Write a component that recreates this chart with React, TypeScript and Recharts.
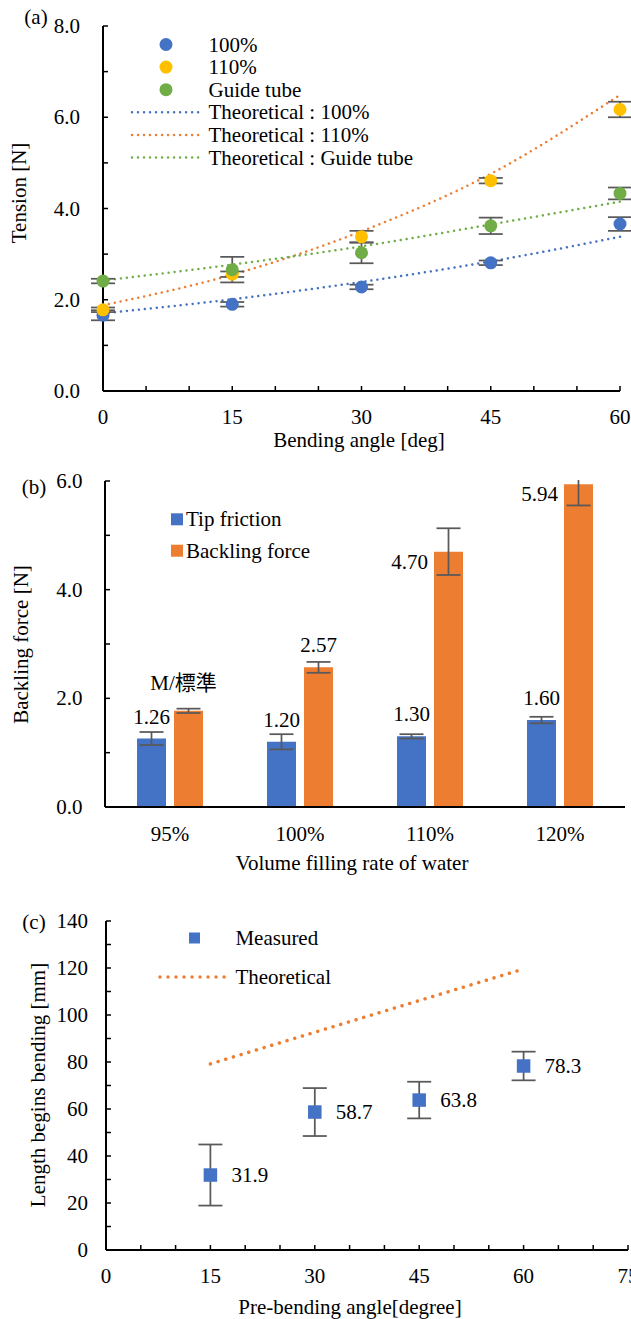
import React from 'react';
import { ComposedChart, BarChart, Bar, Line, Scatter, XAxis, YAxis, ErrorBar, LabelList, Legend } from 'recharts';

// ---------- Panel (a) data ----------
const anglesA = [0, 15, 30, 45, 60];
const tension100 = [1.66, 1.9, 2.28, 2.81, 3.66];
const tension100Err = [0.11, 0.05, 0.05, 0.05, 0.15];
const tension110 = [1.78, 2.56, 3.38, 4.61, 6.17];
const tension110Err = [0.05, 0.06, 0.13, 0.06, 0.17];
const tensionGuide = [2.41, 2.66, 3.03, 3.62, 4.33];
const tensionGuideErr = [0.05, 0.28, 0.23, 0.18, 0.13];
const theory100 = [1.7, 2.01, 2.39, 2.84, 3.38];
const theory110 = [1.88, 2.55, 3.5, 4.76, 6.49];
const theoryGuide = [2.42, 2.77, 3.17, 3.65, 4.15];
const xTicksA = [0, 5, 10, 15, 20, 25, 30, 35, 40, 45, 50, 55, 60];
const xLabelsA = [0, 15, 30, 45, 60];
const yTicksA = [0, 1, 2, 3, 4, 5, 6, 7, 8];
const yLabelsA = [0, 2, 4, 6, 8];
const legendA = ['100%', '110%', 'Guide tube', 'Theoretical : 100%', 'Theoretical : 110%', 'Theoretical : Guide tube'];

// ---------- Panel (b) data ----------
const fillRates = ['95%', '100%', '110%', '120%'];
const tipFriction = [1.26, 1.2, 1.3, 1.6];
const tipFrictionErr = [0.12, 0.14, 0.04, 0.06];
const backlingForce = [1.77, 2.57, 4.7, 5.94];
const backlingForceErr = [0.04, 0.1, 0.43, 0.39];
const backlingLabels = ['M/標準', '2.57', '4.70', '5.94'];
const yTicksB = [0, 1, 2, 3, 4, 5, 6];
const yLabelsB = [0, 2, 4, 6];
const legendB = ['Tip friction', 'Backling force'];

// ---------- Panel (c) data ----------
const preAngles = [15, 30, 45, 60];
const measuredLength = [31.9, 58.7, 63.8, 78.3];
const measuredErr = [13.0, 10.2, 7.8, 6.1];
const theoryAngles = [15, 60];
const theoryLength = [79.2, 119.6];
const xTicksC = [0, 5, 10, 15, 20, 25, 30, 35, 40, 45, 50, 55, 60, 65, 70, 75];
const xLabelsC = [0, 15, 30, 45, 60, 75];
const yTicksC = [0, 10, 20, 30, 40, 50, 60, 70, 80, 90, 100, 110, 120, 130, 140];
const yLabelsC = [0, 20, 40, 60, 80, 100, 120, 140];
const legendC = ['Measured', 'Theoretical'];

// ---------- styles ----------
const FONT = "'Liberation Serif', 'DejaVu Serif', serif";
const FS = 21;
const BLUE = '#4472C4';
const ORANGE = '#ED7D31';
const YELLOW = '#FFC000';
const GREEN = '#70AD47';
const ERR = '#595959';
const AXIS = { stroke: '#000', strokeWidth: 2 };

const txt = { fontFamily: FONT, fontSize: FS, fill: '#000' } as const;

const pts = (xs: number[], ys: number[], es?: number[]) =>
  xs.map((x, i) => ({ x, y: ys[i], err: es ? es[i] : 0 }));

const makeYTick = (labels: number[], dx: number, fmt: (v: number) => string) => (p: any) => {
  const { x, y, payload } = p;
  const v = payload.value;
  return (
    <g>
      <line x1={x} x2={x + 5} y1={y} y2={y} stroke="#000" strokeWidth={1.5} />
      {labels.includes(v) && (
        <text x={x + dx} y={y} textAnchor="end" dominantBaseline="central" {...txt}>
          {fmt(v)}
        </text>
      )}
    </g>
  );
};

const makeXTick = (labels: number[] | null, dy: number, showLine: boolean) => (p: any) => {
  const { x, y, payload } = p;
  const v = payload.value;
  return (
    <g>
      {showLine && <line x1={x} x2={x} y1={y} y2={y - 5} stroke="#000" strokeWidth={1.5} />}
      {(labels === null || labels.includes(v)) && (
        <text x={x} y={y + dy} textAnchor="middle" dominantBaseline="central" {...txt}>
          {String(v)}
        </text>
      )}
    </g>
  );
};

const circleShape = (color: string) => (p: any) => <circle cx={p.cx} cy={p.cy} r={6.5} fill={color} />;

const squareShape = (p: any) => (
  <g>
    <rect x={p.cx - 6.75} y={p.cy - 6.75} width={13.5} height={13.5} fill={BLUE} />
    <text x={p.cx + 21} y={p.cy} textAnchor="start" dominantBaseline="central" {...txt}>
      {Number(p.payload.y).toFixed(1)}
    </text>
  </g>
);

const titleY = (x: number, y: number, s: string) => () => (
  <text x={x} y={y} transform={`rotate(-90 ${x} ${y})`} textAnchor="middle" dominantBaseline="central" {...txt}>
    {s}
  </text>
);
const titleX = (x: number, y: number, s: string) => () => (
  <text x={x} y={y} textAnchor="middle" dominantBaseline="central" {...txt}>
    {s}
  </text>
);

// ---------- legends ----------
function LegendA() {
  const colorsDot = [BLUE, YELLOW, GREEN];
  const colorsLine = [BLUE, ORANGE, GREEN];
  return (
    <svg width={631} height={180} style={{ display: 'block' }}>
      <text x={36} y={16.7} textAnchor="middle" dominantBaseline="central" {...txt}>(a)</text>
      {legendA.map((s, i) => {
        const y = 44.5 + i * 22.6;
        return (
          <g key={s}>
            {i < 3 ? (
              <circle cx={166} cy={y} r={6.5} fill={colorsDot[i]} />
            ) : (
              <line x1={132} x2={201} y1={y} y2={y} stroke={colorsLine[i - 3]} strokeWidth={2.5} strokeDasharray="0.01 6" strokeLinecap="round" />
            )}
            <text x={208.5} y={y} dominantBaseline="central" {...txt}>{s}</text>
          </g>
        );
      })}
    </svg>
  );
}

function LegendB() {
  const colors = [BLUE, ORANGE];
  return (
    <svg width={631} height={110} style={{ display: 'block' }}>
      {/* plot-area clip above the top border (error bar overflow is cut at 6.0 like the reference) */}
      <rect x={106} y={0} width={518} height={20} fill="#fff" />
      <text x={34} y={27} textAnchor="middle" dominantBaseline="central" {...txt}>(b)</text>
      {legendB.map((s, i) => {
        const y = 59.3 + i * 31.4;
        return (
          <g key={s}>
            <rect x={171} y={y - 6} width={12} height={12} fill={colors[i]} />
            <text x={186} y={y} dominantBaseline="central" {...txt}>{s}</text>
          </g>
        );
      })}
    </svg>
  );
}

function LegendC() {
  return (
    <svg width={631} height={115} style={{ display: 'block' }}>
      <text x={34} y={41.5} textAnchor="middle" dominantBaseline="central" {...txt}>(c)</text>
      <rect x={189} y={52.5} width={11} height={11} fill={BLUE} />
      <text x={235.4} y={58} dominantBaseline="central" {...txt}>{legendC[0]}</text>
      <line x1={160} x2={229} y1={97} y2={97} stroke={ORANGE} strokeWidth={3.5} strokeDasharray="0.01 8" strokeLinecap="round" />
      <text x={235.4} y={97} dominantBaseline="central" {...txt}>{legendC[1]}</text>
    </svg>
  );
}

// ---------- bar labels ----------
const TipLabel = (p: any) => {
  const vb = p.viewBox || p;
  return (
    <text x={vb.x + vb.width / 2} y={vb.y - 22} textAnchor="middle" dominantBaseline="central" {...txt}>
      {Number(p.value).toFixed(2)}
    </text>
  );
};
const BackLabel = (p: any) => {
  const vb = p.viewBox || p;
  const i = p.index;
  const s = backlingLabels[i];
  if (Number(p.value) > 4) {
    return (
      <text x={vb.x - 6} y={vb.y + 10} textAnchor="end" dominantBaseline="central" {...txt}>{s}</text>
    );
  }
  const dy = i === 0 ? 28 : 22;
  return (
    <text
      x={vb.x + vb.width / 2 - (i === 0 ? 5 : 0)}
      y={vb.y - dy}
      textAnchor="middle"
      dominantBaseline="central"
      {...txt}
      fontFamily={i === 0 ? "'Liberation Serif', 'Noto Sans CJK JP', serif" : FONT}
    >
      {s}
    </text>
  );
};

export default function App() {
  const d100 = pts(anglesA, tension100, tension100Err);
  const d110 = pts(anglesA, tension110, tension110Err);
  const dGuide = pts(anglesA, tensionGuide, tensionGuideErr);
  const t100 = pts(anglesA, theory100);
  const t110 = pts(anglesA, theory110);
  const tGuide = pts(anglesA, theoryGuide);

  const barData = fillRates.map((c, i) => ({
    cat: c,
    tip: tipFriction[i],
    tipErr: tipFrictionErr[i],
    back: backlingForce[i],
    backErr: backlingForceErr[i],
  }));

  const dMeas = pts(preAngles, measuredLength, measuredErr);
  const dTheo = pts(theoryAngles, theoryLength);

  return (
    <div style={{ position: 'absolute', left: 0, top: 0, width: 631, height: 1319, background: '#fff', overflow: 'hidden', fontFamily: FONT }}>
      {/* Panel (a) */}
      <div style={{ position: 'absolute', left: 0, top: 0 }}>
        <ComposedChart width={631} height={460} margin={{ top: 26, right: 11, left: 0, bottom: 0 }}>
          <XAxis
            type="number"
            dataKey="x"
            domain={[0, 60]}
            ticks={xTicksA}
            interval={0}
            tickSize={0}
            tickMargin={0}
            tickLine={false}
            axisLine={AXIS}
            height={69}
            tick={makeXTick(xLabelsA, 26, true)}
            label={titleX(359, 440, 'Bending angle [deg]')}
          />
          <YAxis
            type="number"
            dataKey="y"
            domain={[0, 8]}
            ticks={yTicksA}
            interval={0}
            tickSize={0}
            tickMargin={0}
            tickLine={false}
            axisLine={AXIS}
            width={103}
            tick={makeYTick(yLabelsA, -23, (v) => v.toFixed(1))}
            label={titleY(19, 193, 'Tension [N]')}
          />
          <XAxis xAxisId="top" orientation="top" type="number" domain={[0, 1]} height={0} tick={false} tickLine={false} axisLine={AXIS} />
          <YAxis yAxisId="right" orientation="right" type="number" domain={[0, 1]} width={0} tick={false} tickLine={false} axisLine={AXIS} />
          <Legend layout="vertical" align="center" verticalAlign="middle" wrapperStyle={{ left: 0, top: 0 }} content={() => <LegendA />} />
          <Line data={t100} dataKey="y" type="monotone" stroke={BLUE} strokeWidth={2.5} strokeDasharray="0.01 6" strokeLinecap="round" dot={false} isAnimationActive={false} />
          <Line data={t110} dataKey="y" type="monotone" stroke={ORANGE} strokeWidth={2.5} strokeDasharray="0.01 6" strokeLinecap="round" dot={false} isAnimationActive={false} />
          <Line data={tGuide} dataKey="y" type="monotone" stroke={GREEN} strokeWidth={2.5} strokeDasharray="0.01 6" strokeLinecap="round" dot={false} isAnimationActive={false} />
          <Scatter data={d100} dataKey="y" shape={circleShape(BLUE)} isAnimationActive={false}>
            <ErrorBar dataKey="err" direction="y" width={12} stroke={ERR} strokeWidth={1.75} />
          </Scatter>
          <Scatter data={d110} dataKey="y" shape={circleShape(YELLOW)} isAnimationActive={false}>
            <ErrorBar dataKey="err" direction="y" width={12} stroke={ERR} strokeWidth={1.75} />
          </Scatter>
          <Scatter data={dGuide} dataKey="y" shape={circleShape(GREEN)} isAnimationActive={false}>
            <ErrorBar dataKey="err" direction="y" width={12} stroke={ERR} strokeWidth={1.75} />
          </Scatter>
        </ComposedChart>
      </div>

      {/* Panel (b) */}
      <div style={{ position: 'absolute', left: 0, top: 460 }}>
        <BarChart width={631} height={420} data={barData} margin={{ top: 21, right: 6, left: 0, bottom: 0 }} barSize={29} barGap={8}>
          <XAxis
            dataKey="cat"
            tickSize={0}
            tickMargin={0}
            tickLine={false}
            interval={0}
            axisLine={AXIS}
            height={73}
            tick={makeXTick(null, 27, false)}
            label={titleX(352, 403, 'Volume filling rate of water')}
          />
          <YAxis
            type="number"
            domain={[0, 6]}
            allowDataOverflow
            ticks={yTicksB}
            interval={0}
            tickSize={0}
            tickMargin={0}
            tickLine={false}
            axisLine={AXIS}
            width={105}
            tick={makeYTick(yLabelsB, -22.5, (v) => v.toFixed(1))}
            label={titleY(21, 184.5, 'Backling force [N]')}
          />
          <XAxis xAxisId="top" orientation="top" type="number" domain={[0, 1]} height={0} tick={false} tickLine={false} axisLine={AXIS} />
          <YAxis yAxisId="right" orientation="right" type="number" domain={[0, 1]} width={0} tick={false} tickLine={false} axisLine={AXIS} />
          <Legend layout="vertical" align="center" verticalAlign="middle" wrapperStyle={{ left: 0, top: 0 }} content={() => <LegendB />} />
          <Bar dataKey="tip" fill={BLUE} isAnimationActive={false}>
            <ErrorBar dataKey="tipErr" direction="y" width={12} stroke={ERR} strokeWidth={1.75} />
            <LabelList dataKey="tip" content={TipLabel} />
          </Bar>
          <Bar dataKey="back" fill={ORANGE} isAnimationActive={false}>
            <ErrorBar dataKey="backErr" direction="y" width={12} stroke={ERR} strokeWidth={1.75} />
            <LabelList dataKey="back" content={BackLabel} />
          </Bar>
        </BarChart>
      </div>

      {/* Panel (c) */}
      <div style={{ position: 'absolute', left: 0, top: 880 }}>
        <ComposedChart width={631} height={439} margin={{ top: 41, right: 3, left: 0, bottom: 0 }}>
          <XAxis
            type="number"
            dataKey="x"
            domain={[0, 75]}
            ticks={xTicksC}
            interval={0}
            tickSize={0}
            tickMargin={0}
            tickLine={false}
            axisLine={AXIS}
            height={69}
            tick={makeXTick(xLabelsC, 26, true)}
            label={titleX(350, 427, 'Pre-bending angle[degree]')}
          />
          <YAxis
            type="number"
            dataKey="y"
            domain={[0, 140]}
            ticks={yTicksC}
            interval={0}
            tickSize={0}
            tickMargin={0}
            tickLine={false}
            axisLine={AXIS}
            width={106}
            tick={makeYTick(yLabelsC, -18, (v) => String(v))}
            label={titleY(38, 205, 'Length begins bending [mm]')}
          />
          <XAxis xAxisId="top" orientation="top" type="number" domain={[0, 1]} height={0} tick={false} tickLine={false} axisLine={AXIS} />
          <YAxis yAxisId="right" orientation="right" type="number" domain={[0, 1]} width={0} tick={false} tickLine={false} axisLine={AXIS} />
          <Legend layout="vertical" align="center" verticalAlign="middle" wrapperStyle={{ left: 0, top: 0 }} content={() => <LegendC />} />
          <Line data={dTheo} dataKey="y" type="linear" stroke={ORANGE} strokeWidth={3.5} strokeDasharray="0.01 8" strokeLinecap="round" dot={false} isAnimationActive={false} />
          <Scatter data={dMeas} dataKey="y" shape={squareShape} isAnimationActive={false}>
            <ErrorBar dataKey="err" direction="y" width={12} stroke={ERR} strokeWidth={1.75} />
          </Scatter>
        </ComposedChart>
      </div>
    </div>
  );
}
